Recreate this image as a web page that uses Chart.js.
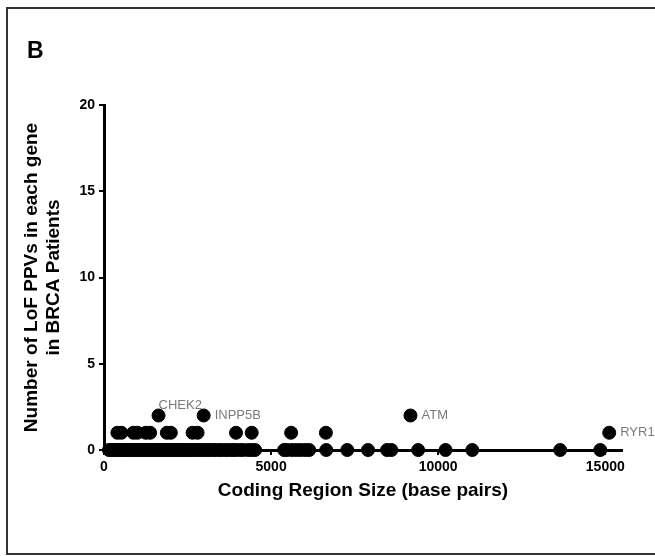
<!DOCTYPE html>
<html>
<head>
<meta charset="utf-8">
<script src="https://cdn.jsdelivr.net/npm/chart.js@4/dist/chart.umd.min.js"></script>
<style>
  html, body { margin: 0; padding: 0; background: #fff; }
  #wrap { position: relative; width: 655px; height: 556px; overflow: hidden; }
  #frame {
    position: absolute; left: 6px; top: 7px; width: 700px; height: 544px;
    border: 2px solid #333;
  }
  #panel {
    position: absolute; left: 27px; top: 37px;
    font: bold 23px "Liberation Sans", Arial, sans-serif; color: #000;
  }
  canvas { position: absolute; left: 0; top: 0; }
</style>
</head>
<body>
<div id="wrap">
  <div id="frame"></div>
  <canvas id="c" width="655" height="556"></canvas>
  <div id="panel">B</div>
</div>
<script>
// genes with no LoF PPVs (coding region size, bp)
const zeroSizes = [150, 220, 270, 340, 380, 460, 510, 570, 600, 690, 720, 800, 860, 890, 970, 1030,
  1070, 1140, 1200, 1240, 1320, 1360, 1430, 1490, 1530, 1610, 1650, 1730, 1770, 1850, 1910, 1950,
  2030, 2090, 2150, 2200, 2280, 2340, 2390, 2470, 2520, 2610, 2670, 2760, 2820, 2910, 2970, 3070,
  3140, 3250, 3320, 3430, 3510, 3630, 3710, 3830, 3920, 4050, 4150, 4300, 4410, 4520,
  5390, 5480, 5630, 5760, 5880, 6020, 6140, 6650, 7280, 7900, 8470, 8600, 9400, 10220, 11020,
  13650, 14850];
// genes with one LoF PPV
const oneSizes = [400, 520, 880, 1000, 1250, 1380, 1880, 2000, 2650, 2800, 3950, 4420, 5600, 6640, 15117];
// genes with two LoF PPVs
const twoSizes = [1632, 2982, 9171];

// named genes
const geneNames = ['CHEK2', 'INPP5B', 'ATM', 'RYR1'];
const geneSizes = [1632, 2982, 9171, 15117];
const geneCounts = [2, 2, 2, 1];

const xTicks = [0, 5000, 10000, 15000];

const points = [
  ...zeroSizes.map(x => ({ x, y: 0 })),
  ...oneSizes.map(x => ({ x, y: 1 })),
  ...twoSizes.map(x => ({ x, y: 2 }))
];

const geneLabelPlugin = {
  id: 'geneLabels',
  afterDatasetsDraw(chart) {
    const { ctx, scales } = chart;
    ctx.save();
    ctx.font = '13px "Liberation Sans", Arial, sans-serif';
    ctx.fillStyle = '#7a7a7a';
    ctx.textAlign = 'left';
    geneNames.forEach((name, i) => {
      const px = scales.x.getPixelForValue(geneSizes[i]);
      const py = scales.y.getPixelForValue(geneCounts[i]);
      if (name === 'CHEK2') {
        // sits above its point
        ctx.textBaseline = 'alphabetic';
        ctx.fillText(name, px, py - 7);
      } else {
        ctx.textBaseline = 'middle';
        ctx.fillText(name, px + 11, py);
      }
    });
    ctx.restore();
  }
};

const tickFont = { family: '"Liberation Sans", Arial, sans-serif', size: 14, weight: 'bold' };
const titleFont = { family: '"Liberation Sans", Arial, sans-serif', size: 19, weight: 'bold', lineHeight: 1.16 };

new Chart(document.getElementById('c'), {
  type: 'scatter',
  data: {
    datasets: [{
      data: points,
      backgroundColor: '#000',
      borderColor: '#000',
      pointRadius: 6.5,
      pointHoverRadius: 6.5,
      clip: false
    }]
  },
  options: {
    responsive: false,
    animation: false,
    events: [],
    layout: { padding: { top: 105, right: 33, left: 0, bottom: 0 } },
    plugins: { legend: { display: false }, tooltip: { enabled: false } },
    scales: {
      x: {
        type: 'linear',
        min: 0,
        max: 15500,
        afterBuildTicks: s => { s.ticks = xTicks.map(v => ({ value: v })); },
        afterFit: s => { s.height = 106; },
        border: { display: true, color: '#000', width: 3 },
        grid: { display: true, drawOnChartArea: false, drawTicks: true, tickLength: 5, color: '#000', lineWidth: 2 },
        ticks: { color: '#000', font: tickFont, padding: 4, maxRotation: 0, callback: v => String(v) },
        title: {
          display: true,
          text: 'Coding Region Size (base pairs)',
          color: '#000',
          font: titleFont,
          padding: { top: 0, bottom: 54 }
        }
      },
      y: {
        type: 'linear',
        min: 0,
        max: 20,
        ticks: { stepSize: 5, color: '#000', font: tickFont, padding: 4 },
        afterFit: s => { s.width = 104; },
        border: { display: true, color: '#000', width: 3 },
        grid: { display: true, drawOnChartArea: false, drawTicks: true, tickLength: 5, color: '#000', lineWidth: 2 },
        title: {
          display: true,
          text: ['Number of LoF PPVs in each gene', 'in BRCA Patients'],
          color: '#000',
          font: titleFont,
          padding: { top: 21, bottom: 0 }
        }
      }
    }
  },
  plugins: [geneLabelPlugin]
});
</script>
</body>
</html>
